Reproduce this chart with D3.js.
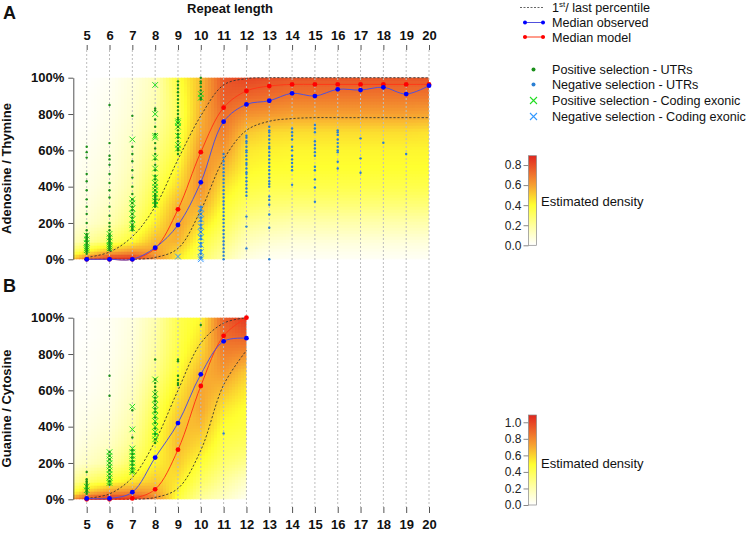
<!DOCTYPE html>
<html><head><meta charset="utf-8">
<script src="https://cdn.jsdelivr.net/npm/d3@7"></script>
<style>body{margin:0;background:#fff}svg{display:block;font-family:"Liberation Sans",Arial,Helvetica,sans-serif}</style>
</head><body><svg id="c" width="750" height="543"></svg>
<script>
// ---------- DATA ----------
const repeatLengths = [5,6,7,8,9,10,11,12,13,14,15,16,17,18,19,20];
const pctTicks = [0,20,40,60,80,100];
const densTicksA = [0,0.2,0.4,0.6,0.8];
const densTicksB = [0,0.2,0.4,0.6,0.8,1.0];
const densMaxA = 0.893, densMaxB = 1.088;

// Panel A (Adenosine / Thymine), x = 5..20
const medianObsA   = [0,0,0,6.4,18.9,42.4,75.8,85.3,87.3,91.4,89.9,93.6,93.2,94.7,91,95.6];
const medianModelA = [0,0,0,6,27.5,59,83.5,92.7,95.4,96.3,96.3,96.3,96.3,96.3,96.3,96.3];
const upperA = [1,4,12.5,29,55,79,96,99.5,100,100,100,100,100,100,100,100];
const lowerA = [0,0,0,1,6,27,55,71,76,77.5,78,78,78,78,78,78];

// Panel B (Guanine / Cytosine), x = 5..12
const lengthsB = [5,6,7,8,9,10,11,12];
const medianObsB   = [0.5,0.5,3.9,23,42,68.8,87,88.7];
const medianModelB = [0,0,0.5,5.5,27.3,62.4,90,100];
const upperB = [0.5,3,12,32,60,86,97,100];
const lowerB = [0,0,0,1,6,27,63,82];

// density grids: columns at gridX, rows at gridY (%)
const gridY = [0,4,10,20,30,40,50,60,70,80,90,100];
const gridXA = [4.4,5,6,7,8,9,10,11,12,13,14,15,16,17,18,19,20];
const densA = [
 [0.55,0.30,0.14,0.07,0.04,0.03,0.02,0.01,0.01,0.00,0.00,0.00],
 [0.72,0.42,0.20,0.10,0.07,0.05,0.04,0.03,0.02,0.01,0.01,0.00],
 [0.89,0.56,0.28,0.16,0.12,0.09,0.07,0.06,0.05,0.04,0.03,0.02],
 [0.89,0.63,0.40,0.28,0.22,0.18,0.15,0.13,0.11,0.09,0.08,0.07],
 [0.66,0.60,0.55,0.44,0.38,0.33,0.28,0.24,0.20,0.17,0.15,0.14],
 [0.44,0.48,0.56,0.60,0.56,0.48,0.42,0.37,0.34,0.32,0.34,0.38],
 [0.30,0.33,0.38,0.48,0.58,0.64,0.65,0.62,0.58,0.56,0.55,0.54],
 [0.18,0.21,0.26,0.34,0.40,0.46,0.54,0.62,0.68,0.72,0.76,0.78],
 [0.06,0.09,0.14,0.22,0.31,0.37,0.42,0.45,0.52,0.64,0.74,0.82],
 [0.03,0.05,0.10,0.19,0.28,0.35,0.40,0.43,0.48,0.62,0.72,0.80],
 [0.02,0.04,0.08,0.17,0.27,0.35,0.40,0.42,0.47,0.60,0.70,0.78],
 [0.02,0.04,0.08,0.17,0.27,0.35,0.40,0.42,0.47,0.60,0.70,0.78],
 [0.02,0.04,0.08,0.17,0.27,0.35,0.40,0.42,0.47,0.60,0.70,0.78],
 [0.02,0.04,0.08,0.17,0.27,0.35,0.40,0.42,0.47,0.60,0.70,0.78],
 [0.02,0.04,0.08,0.17,0.27,0.35,0.40,0.42,0.47,0.60,0.70,0.78],
 [0.02,0.04,0.08,0.17,0.27,0.35,0.40,0.42,0.47,0.60,0.70,0.78],
 [0.02,0.04,0.08,0.17,0.27,0.35,0.40,0.42,0.46,0.59,0.70,0.78]
];
const gridXB = [4.4,5,6,7,8,9,10,11,12];
const densB = [
 [0.80,0.45,0.25,0.10,0.06,0.04,0.03,0.02,0.01,0.01,0.00,0.00],
 [1.00,0.62,0.35,0.15,0.10,0.07,0.05,0.03,0.02,0.02,0.01,0.01],
 [1.09,0.75,0.45,0.22,0.15,0.11,0.08,0.06,0.05,0.04,0.03,0.03],
 [1.05,0.78,0.55,0.38,0.28,0.22,0.18,0.15,0.12,0.10,0.09,0.08],
 [0.82,0.72,0.62,0.52,0.48,0.45,0.40,0.34,0.28,0.24,0.22,0.20],
 [0.45,0.50,0.55,0.62,0.66,0.65,0.60,0.54,0.48,0.44,0.42,0.42],
 [0.25,0.30,0.38,0.48,0.58,0.66,0.72,0.72,0.68,0.60,0.55,0.50],
 [0.15,0.19,0.25,0.35,0.42,0.48,0.55,0.65,0.75,0.82,0.88,0.92],
 [0.04,0.08,0.14,0.28,0.38,0.44,0.48,0.54,0.62,0.78,0.92,1.04]
];

// scatter points: [repeat length, values %]
const posUtrA = [
 [5,[62,59,56,47,43,38,33,29,25,20,16,14,13,12,11,10,9,8,7,6,5,4,3]],
 [6,[85,64,57,55,52,47,42,38,34,29,24,20,18,16,14,13,12,11,10,9,8,7,6,5]],
 [7,[79,62,58,54,49,45,40,36,33,31,29,27,25,23,21,19,18,17,16]],
 [8,[83,82,77,73,69,64,61,58,55,52,49,46,44,42,40,38,36,35,34,33,32,31,30,29]],
 [9,[98,96,94,92,90,88,86,84,82,80,78,77,75,73,71,69,67,65,63,61,60,58]],
 [10,[100,98,97,95,93,91,89,88]]
];
const posCodA = [
 [5,[13,11,9,7,6,5]],
 [6,[14,12,10,8,7,6]],
 [7,[66,33,31,28,25,22,19,17]],
 [8,[96,80,68,67,56,50,45,42,40,38,36,34,32,30]],
 [9,[76,75,73,68,63,61]],
 [10,[91,89]]
];
const negUtrA = [
 [10,[29,27,25,23,21,19,17,15,13,11,9,7,5,3,1]],
 [11,[58,56,54,52,50,48,46,44,42,40,38,36,34,32,30,28,26,24,22,20,18,16,14,12,10,8,6,4,2,0]],
 [12,[68,67,65,64,62,60,59,57,55,53,52,50,48,47,45,43,41,39,37,35,23.5,18,6]],
 [13,[73,71,70,68,66,64,62,61,59,57,55,53,51,49,47,45,43,41.5,40,34.6,32.7,30,24.7,17.4,0]],
 [14,[72,70,68,66,62,60,57,55,53,51,49,41]],
 [15,[74,72,70,65,63,61,59,57,51,49,44,39.5,31.7]],
 [16,[71,70,68.5,66,64,62,60,59,53.7,50]],
 [17,[66.6,55.6,47.7]],
 [18,[64.2]],
 [19,[58]]
];
const negCodA = [
 [9,[1.5]],
 [10,[28,25,22,18,15,12,8,4,1,0]]
];
const posUtrB = [
 [5,[15,11,10,9,8,7,6,5,4,3]],
 [6,[68,57,26,24,22,20,18,16,14,12,10,8]],
 [7,[49,34,27,25,23,21,19,17,15]],
 [8,[77,66,64,62,60,58,56,54,52,50,48,45,42,39,36,33,31]],
 [9,[77,76,68,65.7,64,63]],
 [10,[96]]
];
const posCodB = [
 [5,[7,5]],
 [6,[26,24,22,20,18,16,14,12,10,9]],
 [7,[51,38.5,28,26,24,22,20,18,16,15]],
 [8,[66,58,55,52,49,46,43,40,37,35,33]]
];
const negUtrB = [[11,[36.3]]];
const negCodB = [];

// ---------- DRAWING ----------
const svg = d3.select("#c");
const x = d3.scaleLinear().domain([5,20]).range([86.7,429]);
const yA = d3.scaleLinear().domain([0,100]).range([259.3,77.7]);
const yB = d3.scaleLinear().domain([0,100]).range([499.3,317.7]);

const colorStops = [0,0.2,0.45,0.66,0.84,1];
const colorRange = ["#FFFFFF","#FFFFA8","#FFFF30","#F7A431","#EC612A","#E0261E"];
function makeColor(max){
  return d3.scaleLinear().domain(colorStops.map(t=>t*max)).range(colorRange).clamp(true);
}
const colA = makeColor(densMaxA), colB = makeColor(densMaxB);

function bracket(arr, v){
  let i = d3.bisectRight(arr, v) - 1;
  i = Math.max(0, Math.min(arr.length-2, i));
  let t = (v - arr[i])/(arr[i+1]-arr[i]); t = Math.max(0,Math.min(1,t));
  return [i,t];
}
function densAt(gx, dens, xv, yv){
  const [i,tx] = bracket(gx, xv), [j,ty] = bracket(gridY, yv);
  const a = dens[i][j]*(1-ty)+dens[i][j+1]*ty;
  const b = dens[i+1][j]*(1-ty)+dens[i+1][j+1]*ty;
  return a*(1-tx)+b*tx;
}
function drawDensity(gx, dens, ys, col){
  const px0 = x(gx[0]), px1 = x(gx[gx.length-1]), py0 = ys(100), py1 = ys(0);
  const step = 3, cells = [];
  for(let px=px0; px<px1-0.01; px+=step){
    for(let py=py0; py<py1-0.01; py+=step){
      const w = Math.min(step, px1-px), h = Math.min(step, py1-py);
      const v = densAt(gx, dens, x.invert(px+w/2), ys.invert(py+h/2));
      cells.push({px,py,w,h,v});
    }
  }
  svg.append("g").selectAll("rect").data(cells).join("rect")
    .attr("x",d=>d.px).attr("y",d=>d.py)
    .attr("width",d=>d.w+(d.px+d.w<px1-0.01?0.6:0))
    .attr("height",d=>d.h+(d.py+d.h<py1-0.01?0.6:0))
    .attr("fill",d=>col(d.v));
}
drawDensity(gridXA, densA, yA, colA);
drawDensity(gridXB, densB, yB, colB);

// grid lines
svg.append("g").selectAll("line").data(repeatLengths).join("line")
  .attr("x1",d=>x(d)).attr("x2",d=>x(d)).attr("y1",50).attr("y2",507)
  .attr("stroke","#BDBDBD").attr("stroke-width",1).attr("stroke-dasharray","2,2");

// axes
const boldTick = sel => sel.selectAll("text").attr("font-size",13).attr("font-weight","bold").attr("fill","#111")
  .attr("font-family",'"Liberation Sans",Arial,sans-serif');
const topAx = svg.append("g").attr("transform","translate(0,50)")
  .call(d3.axisTop(x).tickValues(repeatLengths).tickSize(5).tickPadding(5).tickSizeOuter(0));
topAx.select(".domain").remove(); topAx.selectAll("line").attr("stroke","#555"); boldTick(topAx);
const botAx = svg.append("g").attr("transform","translate(0,507)")
  .call(d3.axisBottom(x).tickValues(repeatLengths).tickSize(6).tickPadding(7).tickSizeOuter(0));
botAx.select(".domain").remove(); botAx.selectAll("line").attr("stroke","#555"); boldTick(botAx);

[yA,yB].forEach(ys=>{
  const g = svg.append("g").attr("transform","translate(73.3,0)")
    .call(d3.axisLeft(ys).tickValues(pctTicks).tickFormat(d=>d+"%").tickSize(5).tickPadding(4).tickSizeOuter(0));
  g.select(".domain").attr("stroke","#555"); g.selectAll("line").attr("stroke","#555");
  boldTick(g);
});

// percentile dashed lines
const curve = d3.curveCatmullRom.alpha(0.5);
function dashed(xs, vals, ys){
  svg.append("path").datum(vals).attr("fill","none").attr("stroke","#333")
    .attr("stroke-width",0.9).attr("stroke-dasharray","2.2,1.8")
    .attr("d", d3.line().x((d,i)=>x(xs[i])).y(d=>ys(d)).curve(curve));
}
dashed(repeatLengths, upperA, yA); dashed(repeatLengths, lowerA, yA);
dashed(lengthsB, upperB, yB); dashed(lengthsB, lowerB, yB);

// scatter
function dots(groups, ys, color){
  const pts = groups.flatMap(([k,vs])=>vs.map(v=>[k,v]));
  svg.append("g").selectAll("circle").data(pts).join("circle")
    .attr("cx",d=>x(d[0])).attr("cy",d=>ys(d[1])).attr("r",1.2).attr("fill",color);
}
const GREEN_DOT="#1A8F1A", BLUE_DOT="#2B7FD3", GREEN_X="#22DD22", BLUE_X="#3399FF";
function crosses(groups, ys, color){
  const pts = groups.flatMap(([k,vs])=>vs.map(v=>[k,v]));
  const s = 2.8;
  svg.append("g").selectAll("path").data(pts).join("path")
    .attr("d",d=>{const cx=x(d[0]),cy=ys(d[1]);return `M${cx-s},${cy-s}L${cx+s},${cy+s}M${cx-s},${cy+s}L${cx+s},${cy-s}`;})
    .style("stroke",color).style("stroke-width","1px").style("fill","none");
}
crosses(posCodA, yA, GREEN_X); crosses(negCodA, yA, BLUE_X);
dots(posUtrA, yA, GREEN_DOT); dots(negUtrA, yA, BLUE_DOT);
crosses(posCodB, yB, GREEN_X); crosses(negCodB, yB, BLUE_X);
dots(posUtrB, yB, GREEN_DOT); dots(negUtrB, yB, BLUE_DOT);

// medians
function median(xs, vals, ys, lineColor, dotColor){
  svg.append("path").datum(vals).attr("fill","none").attr("stroke",lineColor).attr("stroke-width",1)
    .attr("d", d3.line().x((d,i)=>x(xs[i])).y(d=>ys(d)).curve(curve));
  svg.append("g").selectAll("circle").data(vals).join("circle")
    .attr("cx",(d,i)=>x(xs[i])).attr("cy",d=>ys(d)).attr("r",2.4).attr("fill",dotColor);
}
median(repeatLengths, medianModelA, yA, "#FF3818", "#FF0000");
median(repeatLengths, medianObsA, yA, "#5050DD", "#0000FF");
median(lengthsB, medianModelB, yB, "#FF3818", "#FF0000");
median(lengthsB, medianObsB, yB, "#5050DD", "#0000FF");

// titles
const T = (xx,yy,txt,size,weight,anchor)=>svg.append("text").attr("x",xx).attr("y",yy).text(txt)
  .attr("font-size",size).attr("font-weight",weight||"normal").attr("text-anchor",anchor||"start").attr("fill","#111");
T(3,18.5,"A",18,"bold");
T(3,292,"B",18,"bold");
T(230,13,"Repeat length",13,"bold","middle");
svg.append("text").attr("transform","translate(10.5,168.5) rotate(-90)").attr("text-anchor","middle")
  .attr("font-size",13).attr("font-weight","bold").attr("fill","#111").text("Adenosine / Thymine");
svg.append("text").attr("transform","translate(10.5,408.5) rotate(-90)").attr("text-anchor","middle")
  .attr("font-size",13).attr("font-weight","bold").attr("fill","#111").text("Guanine / Cytosine");

// legend
const LF = 12.6;
const lg = svg.append("g");
lg.append("line").attr("x1",520).attr("x2",544).attr("y1",7.5).attr("y2",7.5)
  .attr("stroke","#555").attr("stroke-width",0.9).attr("stroke-dasharray","2,1.5");
const t1 = lg.append("text").attr("x",552).attr("y",12).attr("font-size",LF).attr("fill","#111");
t1.append("tspan").text("1");
t1.append("tspan").text("st").attr("font-size",8).attr("dy",-5);
t1.append("tspan").text("/ last percentile").attr("dy",5);
[[22.5,"#5050DD","#0000FF","Median observed"],[37,"#FF3818","#FF0000","Median model"]].forEach(([yy,lc,dc,txt])=>{
  lg.append("line").attr("x1",523).attr("x2",545).attr("y1",yy).attr("y2",yy).attr("stroke",lc).attr("stroke-width",1);
  [525,543].forEach(cx=>lg.append("circle").attr("cx",cx).attr("cy",yy).attr("r",2).attr("fill",dc));
  lg.append("text").attr("x",552).attr("y",yy+4.5).attr("font-size",LF).attr("fill","#111").text(txt);
});
[[69.5,"dot",GREEN_DOT,"Positive selection - UTRs"],[84.5,"dot",BLUE_DOT,"Negative selection - UTRs"],
 [100.5,"x",GREEN_X,"Positive selection - Coding exonic"],[116.5,"x",BLUE_X,"Negative selection - Coding exonic"]]
 .forEach(([yy,kind,c,txt])=>{
  if(kind==="dot") lg.append("circle").attr("cx",533.5).attr("cy",yy).attr("r",2).attr("fill",c);
  else { const s=3.5; lg.append("path").attr("d",`M${533.5-s},${yy-s}L${533.5+s},${yy+s}M${533.5-s},${yy+s}L${533.5+s},${yy-s}`)
    .style("stroke",c).style("stroke-width","1.1px").style("fill","none"); }
  lg.append("text").attr("x",552).attr("y",yy+4.5).attr("font-size",LF).attr("fill","#111").text(txt);
});

// colour bars
function colorbar(id, max, col, ticks, yTop, yBot, labelY){
  const s = d3.scaleLinear().domain([0,max]).range([yBot,yTop]);
  const grad = svg.append("defs").append("linearGradient").attr("id",id).attr("x1",0).attr("x2",0).attr("y1",1).attr("y2",0);
  d3.range(0,1.0001,0.05).forEach(t=>grad.append("stop").attr("offset",t).attr("stop-color",col(t*max)));
  svg.append("rect").attr("x",528.5).attr("y",yTop).attr("width",8).attr("height",yBot-yTop)
    .attr("fill",`url(#${id})`).attr("stroke","#888").attr("stroke-width",0.7);
  const g = svg.append("g").attr("transform","translate(528.5,0)")
    .call(d3.axisLeft(s).tickValues(ticks).tickFormat(d3.format(".1f")).tickSize(5).tickPadding(2).tickSizeOuter(0));
  g.select(".domain").remove(); g.selectAll("line").attr("stroke","#888");
  g.selectAll("text").attr("font-size",12).attr("fill","#222").attr("font-family",'"Liberation Sans",Arial,sans-serif');
  svg.append("text").attr("x",541).attr("y",labelY).attr("font-size",13).attr("fill","#111").text("Estimated density");
}
colorbar("cbA", densMaxA, colA, densTicksA, 155.7, 245.3, 205.5);
colorbar("cbB", densMaxB, colB, densTicksB, 415, 505, 467.5);
</script></body></html>
